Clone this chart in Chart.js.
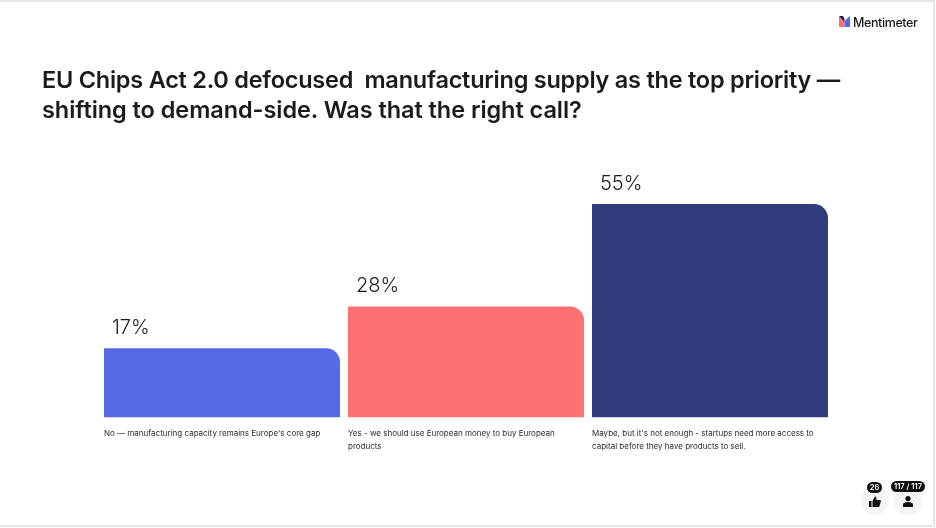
<!DOCTYPE html>
<html>
<head>
<meta charset="utf-8">
<title>Mentimeter result</title>
<script src="https://cdn.jsdelivr.net/npm/chart.js@4"></script>
<style>
  html, body { margin: 0; padding: 0; background: #fff; }
  body { width: 936px; height: 528px; position: relative; overflow: hidden; font-family: Inter, sans-serif; color: #1b1b1f; }
  #frame { position: absolute; left: 0; top: 0; width: 933px; height: 523px; border-top: 2px solid #e6e6e6; border-right: 2px solid #e6e6e6; border-bottom: 2px solid #e6e6e6; }
  #chart_wrap { position: absolute; left: 0; top: 0; width: 936px; height: 528px; }
  h1 { position: absolute; left: 42px; top: 65px; margin: 0; font-size: 23.5px; line-height: 30px; font-weight: 600; white-space: pre; }
  h1 span { display: block; }
  .logo { position: absolute; left: 839px; top: 16px; }
  .logo_text { position: absolute; left: 853px; top: 14px; font-size: 12.5px; line-height: 17px; font-weight: 500; letter-spacing: -0.4px; }
  .round { position: absolute; top: 487px; width: 28px; height: 28px; border-radius: 50%; background: #f4f4f4; }
  .pill { position: absolute; height: 11px; line-height: 11px; border-radius: 6px; background: #111; color: #fff; font-size: 7.5px; font-weight: 600; text-align: center; }
  .ico { position: absolute; }
</style>
</head>
<body>
<div id="frame"></div>
<div id="chart_wrap"><canvas id="chart" width="936" height="528"></canvas></div>
<h1><span style="letter-spacing:-0.24px">EU Chips Act 2.0 defocused  manufacturing supply as the top priority —</span><span style="letter-spacing:-0.06px">shifting to demand-side. Was that the right call?</span></h1>

<svg class="logo" width="11" height="11" viewBox="0 0 11 11">
  <path d="M0 0 L5.5 6 L5.5 11 L0 11 Z" fill="#ff7171"/>
  <path d="M0 0 L4 0 L5.5 3 L5.5 6 Z" fill="#1b1b3a"/>
  <path d="M11 0 L11 11 L5.5 11 L5.5 5 Z" fill="#5769e7"/>
</svg>
<div class="logo_text">Mentimeter</div>

<div class="round" style="left:861px"></div>
<div class="round" style="left:894px"></div>
<div class="pill" style="left:867px;top:482px;width:15px">26</div>
<div class="pill" style="left:891px;top:481px;width:34px">117 / 117</div>
<svg class="ico" style="left:869px;top:496px" width="12" height="11" viewBox="0 0 12 11">
  <path d="M0 5 H2.5 V11 H0 Z M3.5 5 L6 0.5 C7.5 0.5 7.6 2 7.2 4 H11 C12 4 12 5 11.8 5.6 L10.6 10 C10.4 10.8 10 11 9.4 11 H3.5 Z" fill="#111"/>
</svg>
<svg class="ico" style="left:902px;top:496px" width="12" height="11" viewBox="0 0 12 11">
  <circle cx="6" cy="2.6" r="2.6" fill="#111"/>
  <path d="M1 11 V8.8 C1 6.8 3 6 6 6 C9 6 11 6.8 11 8.8 V11 Z" fill="#111"/>
</svg>

<script>
// values
const categories = [
  ["No — manufacturing capacity remains Europe's core gap"],
  ["Yes - we should use European money to buy European", "products"],
  ["Maybe, but it's not enough - startups need more access to", "capital before they have products to sell."]
];
const percentValues = [17, 28, 55];
const barColors = ['#5769e7', '#ff7171', '#323c7c'];

// the bars in the reference keep a small stub under 0%
const axisBase = -1.3;
const axisTop = 69;

// writes the percentage above each bar and the left aligned answer text below it
const barTexts = {
  id: 'barTexts',
  afterDatasetsDraw(chart) {
    const ctx = chart.ctx;
    const meta = chart.getDatasetMeta(0);
    const bottom = chart.scales.y.getPixelForValue(axisBase);
    ctx.save();
    ctx.textAlign = 'left';
    meta.data.forEach((bar, i) => {
      const left = bar.x - bar.width / 2;
      ctx.font = '300 20px Inter, sans-serif';
      ctx.fillStyle = '#1b1b1f';
      ctx.textBaseline = 'alphabetic';
      ctx.fillText(percentValues[i] + '%', left + 8, bar.y - 14);

      ctx.font = '8px Inter, sans-serif';
      ctx.fillStyle = '#2a2a30';
      ctx.textBaseline = 'middle';
      categories[i].forEach((line, n) => {
        ctx.fillText(line, left, bottom + 16 + n * 13.5);
      });
    });
    ctx.restore();
  }
};

const context = document.getElementById('chart').getContext('2d');
new Chart(context, {
  type: 'bar',
  data: {
    labels: categories,
    datasets: [{
      data: percentValues,
      base: axisBase,
      backgroundColor: barColors,
      borderSkipped: false,
      borderRadius: { topLeft: 1, topRight: 14, bottomLeft: 1, bottomRight: 1 },
      categoryPercentage: 1,
      barPercentage: 236 / 244
    }]
  },
  options: {
    responsive: false,
    animation: false,
    layout: { padding: { left: 100, right: 104, top: 151, bottom: 110.5 } },
    plugins: { legend: { display: false }, tooltip: { enabled: false } },
    scales: {
      x: { display: false },
      y: {
        display: false,
        min: axisBase,
        max: axisTop
      }
    }
  },
  plugins: [barTexts]
});
</script>
</body>
</html>
